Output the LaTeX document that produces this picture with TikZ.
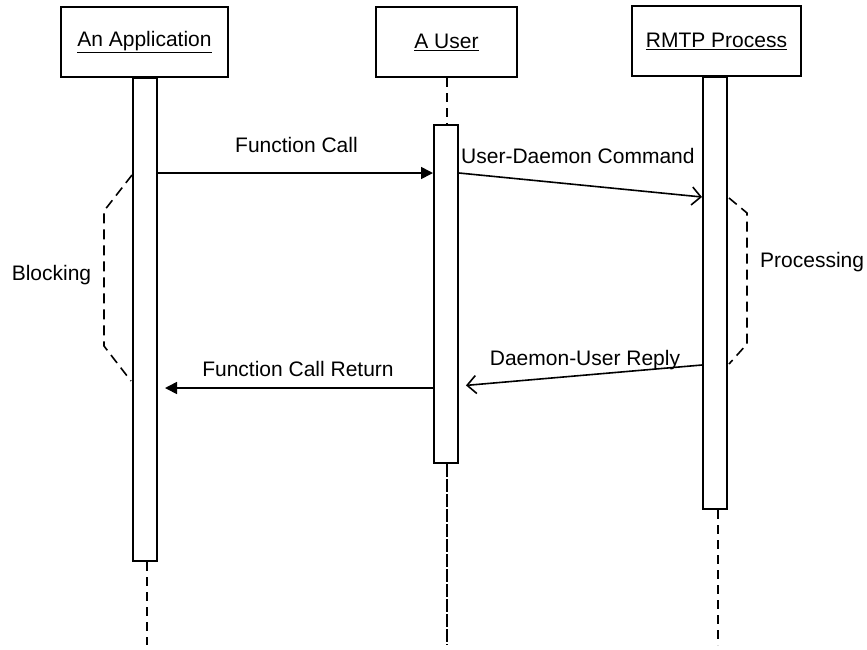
\documentclass[tikz,border=0pt]{standalone}
\usepackage{fontspec}
\setmainfont{Liberation Sans}
\usetikzlibrary{arrows.meta}
\begin{document}
\begin{tikzpicture}[x=1pt,y=-1pt,
  every node/.style={font=\fontsize{21}{25}\selectfont, inner sep=0pt},
  objbox/.style={draw, line width=2pt, minimum height=70pt},
  actbar/.style={draw, line width=2pt, fill=white, minimum width=24pt, anchor=north},
  lifeline/.style={line width=1.8pt, dash pattern=on 9pt off 6pt},
  bracket/.style={line width=1.6pt, dash pattern=on 10pt off 6pt},
  msg/.style={line width=1.6pt},
  synccall/.style={msg, -{Triangle[length=12pt,width=12pt]}},
  asynccall/.style={msg, -{Straight Barb[length=9pt,width=18pt,line width=1.6pt]}}
]
\useasboundingbox (0,0) rectangle (867,649);

% object boxes
\node[objbox, minimum width=167pt] (app) at (144.5,42) {\underline{An Application}};
\node[objbox, minimum width=141pt] (user) at (446.5,42) {\underline{A User}};
\node[objbox, minimum width=169pt] (rmtp) at (716.5,41) {\underline{RMTP Process}};

% lifeline ends
\coordinate (end1) at (147,645);
\coordinate (end2) at (447,645);
\coordinate (end3) at (718,645);
\draw[lifeline] (user.south -| end2) -- (end2);

% activation bars
\node[actbar, minimum height=483pt] (appbar) at (145,77) {};
\node[actbar, minimum height=338pt] (userbar) at (446,124) {};
\node[actbar, minimum height=432pt] (rmtpbar) at (715,76) {};

\draw[lifeline] (appbar.south -| end1) -- (end1);
\draw[lifeline] (userbar.south -| end2) -- (end2);
\draw[lifeline] (rmtpbar.south -| end3) -- (end3);

% message levels
\coordinate (m1) at (0,173);
\coordinate (m2) at (0,197);
\coordinate (m3) at (0,365);
\coordinate (m4) at (0,386);
\coordinate (m5) at (0,388);

% messages
\draw[synccall] (appbar.east |- m1) -- (userbar.west |- m1);
\node[anchor=base] (fc) at (296.5,152) {Function Call};

\draw[asynccall] (userbar.east |- m1) -- (rmtpbar.west |- m2);
\node[anchor=base west] (udc) at (461,163) {User-Daemon Command};

\draw[asynccall, shorten >=7pt] (rmtpbar.west |- m3) -- (userbar.east |- m4);
\node[anchor=base] (dur) at (585,365) {Daemon-User Reply};

\draw[synccall, shorten >=7pt] (userbar.west |- m5) -- (appbar.east |- m5);
\node[anchor=base] (fcr) at (298,376) {Function Call Return};

% blocking bracket
\coordinate (b1) at (132,175);
\coordinate (b2) at (104,211);
\coordinate (b3) at (104,346);
\coordinate (b4) at (131,381);
\draw[bracket] (b1) -- (b2) -- (b3) -- (b4);
\node[anchor=base] (blk) at (51.5,280) {Blocking};

% processing bracket
\coordinate (p1) at (729,198);
\coordinate (p2) at (747,213);
\coordinate (p3) at (747,344);
\coordinate (p4) at (729,364);
\draw[bracket] (p1) -- (p2) -- (p3) -- (p4);
\node[anchor=base west] (proc) at (760,267) {Processing};
\end{tikzpicture}
\end{document}
